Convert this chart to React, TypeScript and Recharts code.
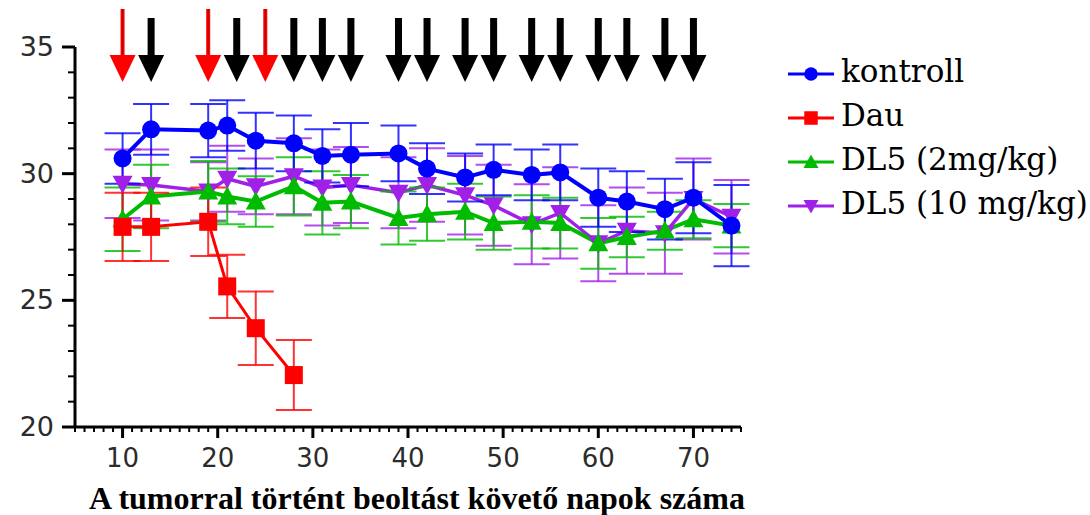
import * as React from 'react'
import { ComposedChart, XAxis, YAxis, Line, ErrorBar, Scatter, Legend, Label } from 'recharts'

// days after tumor inoculation
const days = [10, 13, 19, 21, 24, 28, 31, 34, 39, 42, 46, 49, 53, 56, 60, 63, 67, 70, 74]
const dauDays = [10, 13, 19, 21, 24, 28]

const kontroll = [30.6, 31.75, 31.7, 31.9, 31.3, 31.2, 30.7, 30.75, 30.8, 30.2, 29.85, 30.15, 29.95, 30.05, 29.05, 28.9, 28.6, 29.05, 27.95]
const kontrollErr = [1.0, 1.0, 1.05, 1.0, 1.1, 1.1, 1.05, 1.25, 1.1, 1.0, 0.95, 1.0, 1.0, 1.1, 1.15, 1.2, 1.2, 1.4, 1.6]

const dau = [27.9, 27.9, 28.1, 25.55, 23.9, 22.05]
const dauErr = [1.35, 1.35, 1.35, 1.25, 1.45, 1.38]

const dl5Low = [28.2, 29.1, 29.3, 29.1, 28.9, 29.5, 28.85, 28.9, 28.25, 28.4, 28.5, 28.05, 28.1, 28.05, 27.25, 27.5, 27.75, 28.2, 27.95]
const dl5LowErr = [1.25, 1.25, 1.2, 1.1, 1.0, 1.15, 1.25, 1.05, 1.05, 1.05, 1.1, 1.05, 1.05, 1.0, 1.0, 0.8, 0.75, 0.75, 0.85]

const dl5High = [29.6, 29.55, 29.3, 29.8, 29.5, 29.9, 29.45, 29.55, 29.25, 29.55, 29.15, 28.75, 28.0, 28.45, 27.25, 27.75, 27.65, 29.0, 28.3]
const dl5HighErr = [1.35, 1.4, 1.15, 1.3, 1.1, 1.5, 1.5, 1.5, 1.4, 1.45, 1.55, 1.6, 1.58, 1.8, 1.5, 1.7, 1.6, 1.6, 1.45]

// treatment arrows
const treatDays = [13, 22, 28, 31, 34, 39, 42, 46, 49, 53, 56, 60, 63, 67, 70]
const dauDoseDays = [10, 19, 25]

const xTicks = Array.from({ length: 71 }, (_, i) => i + 5)
const yTicks = Array.from({ length: 16 }, (_, i) => i + 20)

const BLUE = '#0000ff'
const RED = '#ff0000'
const GREEN = '#00bb00'
const PURPLE = '#a020e8'
const SERIF = "'Liberation Serif', 'Times New Roman', Times, 'Nimbus Roman', 'DejaVu Serif', serif"

type Shape = 'circle' | 'square' | 'up' | 'down'

const build = (xs: number[], ys: number[], es: number[]) =>
  xs.map((x, i) => ({ x, y: ys[i], err: es[i] }))

const series = [
  { name: 'kontroll', data: build(days, kontroll, kontrollErr), color: BLUE, shape: 'circle' as Shape, width: 4 },
  { name: 'Dau', data: build(dauDays, dau, dauErr), color: RED, shape: 'square' as Shape, width: 3 },
  { name: 'DL5 (2mg/kg)', data: build(days, dl5Low, dl5LowErr), color: GREEN, shape: 'up' as Shape, width: 4 },
  { name: 'DL5 (10 mg/kg)', data: build(days, dl5High, dl5HighErr), color: PURPLE, shape: 'down' as Shape, width: 3.5 },
]
const drawOrder = [3, 2, 1, 0]

const marker = (shape: Shape, cx: number, cy: number, color: string, s = 1) => {
  if (shape === 'circle') return <circle cx={cx} cy={cy} r={9 * s} fill={color} />
  if (shape === 'square') return <rect x={cx - 9 * s} y={cy - 9 * s} width={18 * s} height={18 * s} fill={color} />
  if (shape === 'up')
    return <polygon points={`${cx - 10 * s},${cy + 8 * s} ${cx + 10 * s},${cy + 8 * s} ${cx},${cy - 10 * s}`} fill={color} />
  return <polygon points={`${cx - 10 * s},${cy - 8 * s} ${cx + 10 * s},${cy - 8 * s} ${cx},${cy + 10 * s}`} fill={color} />
}

const dotFor = (shape: Shape, color: string) => (p: any) => {
  if (p.cx == null || p.cy == null) return <g key={p.index} />
  return <g key={p.index}>{marker(shape, p.cx, p.cy, color)}</g>
}

const BlackArrow = (p: any) => {
  const { cx, cy } = p
  return (
    <g>
      <rect x={cx - 3.5} y={cy - 29} width={7} height={38} fill="#000" />
      <polygon points={`${cx - 13},${cy + 8} ${cx + 13},${cy + 8} ${cx},${cy + 35}`} fill="#000" />
    </g>
  )
}

const RedArrow = (p: any) => {
  const { cx, cy } = p
  return (
    <g>
      <rect x={cx - 2} y={cy - 38} width={4} height={47} fill={RED} />
      <line x1={cx} x2={cx} y1={cy - 38} y2={cy + 9} stroke="#900" strokeWidth={1} />
      <polygon points={`${cx - 13},${cy + 8} ${cx + 13},${cy + 8} ${cx},${cy + 35}`} fill={RED} />
    </g>
  )
}

const XTick = (p: any) => {
  const { x, y, payload } = p
  const v = payload.value
  const major = v % 10 === 0
  return (
    <g>
      <line x1={x} x2={x} y1={y} y2={y + (major ? 11 : 5)} stroke="#000" strokeWidth={major ? 3 : 2} />
      {major && (
        <text x={x} y={y + 40} textAnchor="middle" fontFamily="DejaVu Sans" fontSize={26} fill="#2b2b2b">
          {v}
        </text>
      )}
    </g>
  )
}

const YTick = (p: any) => {
  const { x, y, payload } = p
  const v = payload.value
  const major = v % 5 === 0
  return (
    <g>
      <line x1={x} x2={x - (major ? 13 : 7)} y1={y} y2={y} stroke="#000" strokeWidth={major ? 3 : 2} />
      {major && (
        <text x={x - 21} y={y + 9} textAnchor="end" fontFamily="DejaVu Sans" fontSize={27} fill="#2b2b2b">
          {v}
        </text>
      )}
    </g>
  )
}

const LegendBox = () => (
  <svg width={304} height={190} style={{ display: 'block' }}>
    {series.map((s, i) => {
      const base = 42 + i * 44
      return (
        <g key={s.name}>
          <line x1={2} x2={48} y1={base - 8} y2={base - 8} stroke={s.color} strokeWidth={3} />
          {marker(s.shape, 25, base - 8, s.color, 0.75)}
          <text x={55} y={base} fontFamily="DejaVu Serif" fontSize={31} fill="#000">
            {s.name}
          </text>
        </g>
      )
    })}
  </svg>
)

export default function App() {
  return (
    <div style={{ position: 'absolute', left: 0, top: 0, width: 1090, height: 515, background: '#fff' }}>
      <ComposedChart width={1090} height={515} margin={{ top: 47, right: 349, bottom: 0, left: 0 }}>
        <XAxis
          type="number"
          dataKey="x"
          domain={[5, 75]}
          ticks={xTicks}
          interval={0}
          tickSize={0}
          tickMargin={0}
          tickLine={false}
          tick={<XTick />}
          axisLine={{ stroke: '#000', strokeWidth: 3 }}
          height={88}
          allowDuplicatedCategory={false}
        >
          <Label
            value="A tumorral történt beoltást követő napok száma"
            position="insideBottom"
            offset={6}
            dx={9}
            style={{ fontFamily: SERIF, fontWeight: 'bold', fontSize: 32 }}
            fill="#000"
          />
        </XAxis>
        <YAxis
          type="number"
          domain={[20, 35]}
          ticks={yTicks}
          interval={0}
          tickSize={0}
          tickMargin={0}
          tickLine={false}
          tick={<YTick />}
          axisLine={{ stroke: '#000', strokeWidth: 3 }}
          width={75}
        />
        <Legend
          layout="vertical"
          align="center"
          verticalAlign="middle"
          content={<LegendBox />}
          wrapperStyle={{ left: 786, top: 40, width: 304 }}
        />
        {drawOrder.map((i) => {
          const s = series[i]
          return (
            <Line
              key={s.name}
              name={s.name}
              data={s.data}
              dataKey="y"
              stroke={s.color}
              strokeWidth={s.width}
              dot={dotFor(s.shape, s.color)}
              activeDot={false}
              isAnimationActive={false}
            >
              <ErrorBar dataKey="err" direction="y" width={18} stroke={s.color} strokeWidth={2} strokeOpacity={0.8} isAnimationActive={false} />
            </Line>
          )
        })}
        <Scatter
          name="arrows"
          data={treatDays.map((x) => ({ x, y: 35 }))}
          dataKey="y"
          shape={<BlackArrow />}
          legendType="none"
          isAnimationActive={false}
        />
        <Scatter
          name="dau arrows"
          data={dauDoseDays.map((x) => ({ x, y: 35 }))}
          dataKey="y"
          shape={<RedArrow />}
          legendType="none"
          isAnimationActive={false}
        />
      </ComposedChart>
    </div>
  )
}
